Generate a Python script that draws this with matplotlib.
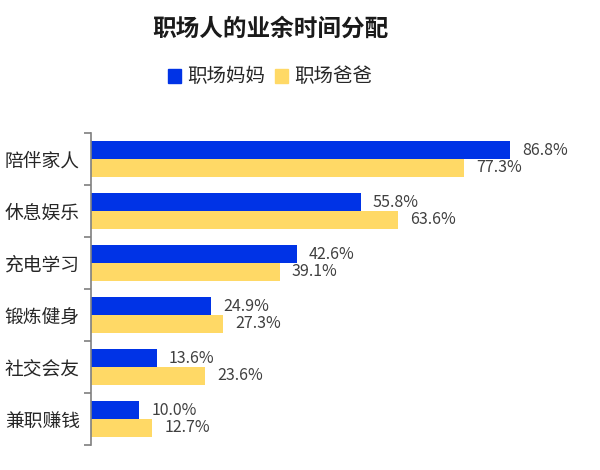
import matplotlib
matplotlib.use("Agg")
import matplotlib.pyplot as plt
from matplotlib.patches import Patch
import numpy as np

plt.rcParams['font.family'] = ['Noto Sans CJK SC', 'DejaVu Sans']

title = "职场人的业余时间分配"
categories = ["陪伴家人", "休息娱乐", "充电学习", "锻炼健身", "社交会友", "兼职赚钱"]
series_names = ["职场妈妈", "职场爸爸"]
mom = [86.8, 55.8, 42.6, 24.9, 13.6, 10.0]
dad = [77.3, 63.6, 39.1, 27.3, 23.6, 12.7]

blue = "#0033E6"
yellow = "#FFD966"

fig = plt.figure(figsize=(6, 4.7), dpi=100)
ax = fig.add_axes([91/600, 25/470, 483/600, 312/470])

y = np.arange(len(categories))
h = 0.34
b1 = ax.barh(y - h/2, mom, height=h, color=blue, label=series_names[0])
b2 = ax.barh(y + h/2, dad, height=h, color=yellow, label=series_names[1])

for bars, vals in ((b1, mom), (b2, dad)):
    for bar, v in zip(bars, vals):
        ax.annotate(f"{v:.1f}%", xy=(v, bar.get_y() + bar.get_height()/2),
                    xytext=(12, 0), textcoords="offset pixels",
                    va="center", ha="left", fontsize=11.5, color="#404040")

ax.set_xlim(0, 100)
ax.set_ylim(len(categories) - 0.5, -0.5)
ax.set_yticks(np.arange(len(categories) + 1) - 0.5, minor=False)
ax.set_yticklabels([])
ax.set_yticks(y, minor=True)
ax.set_yticklabels(categories, minor=True, fontsize=13.5, color="#262626")
ax.tick_params(axis="y", which="minor", length=0, pad=8)
ax.tick_params(axis="y", which="major", length=5, width=1.2, color="#7f7f7f")
ax.set_xticks([])
for s in ("top", "right", "bottom"):
    ax.spines[s].set_visible(False)
ax.spines["left"].set_color("#7f7f7f")
ax.spines["left"].set_linewidth(1.2)

fig.text(0.45, 1 - 29/470, title, ha="center", va="center", fontsize=17, fontweight="bold", color="#1a1a1a")

handles = [Patch(color=blue), Patch(color=yellow)]
fig.legend(handles, series_names, loc="center", bbox_to_anchor=(0.45, 1 - 77/470),
           ncol=2, frameon=False, fontsize=14, handlelength=0.7, handleheight=0.7,
           handletextpad=0.3, columnspacing=0.5, labelcolor="#262626")

fig.savefig("out.png", dpi=100)
